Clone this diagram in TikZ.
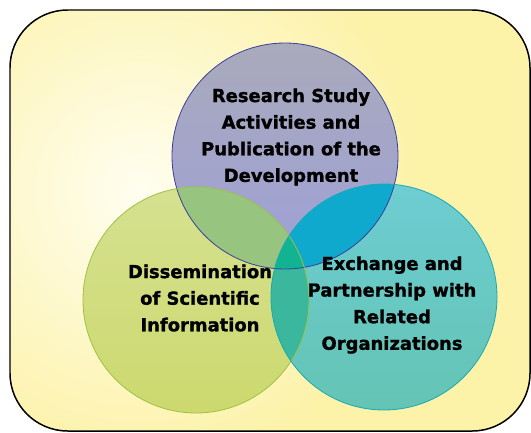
\documentclass[tikz,border=0pt]{standalone}
\usepackage{fontspec}
\setmainfont{DejaVu Sans}[BoldFeatures={FakeBold=1.2}]

\definecolor{bgout}{HTML}{FCF2A8}
\definecolor{bgin}{HTML}{FFFEF0}
\definecolor{topA}{HTML}{A9AABB}
\definecolor{topB}{HTML}{9EA0D8}
\definecolor{topline}{HTML}{3B3F9B}
\definecolor{leftA}{HTML}{D6E190}
\definecolor{leftB}{HTML}{CCD96E}
\definecolor{leftline}{HTML}{9DC146}
\definecolor{rightA}{HTML}{6DCDD2}
\definecolor{rightB}{HTML}{64C4B4}
\definecolor{rightline}{HTML}{19A9B4}
\definecolor{mixTL}{HTML}{97C47F}
\definecolor{mixTR}{HTML}{0EA9CC}
\definecolor{mixLR}{HTML}{3AB79D}
\definecolor{mixTLR}{HTML}{12B393}

\begin{document}
\begin{tikzpicture}[x=1bp, y=1bp, line cap=round, line join=round,
  venntext/.style={align=center, inner sep=0pt, text=black,
    font=\bfseries\fontsize{18}{26.7}\selectfont}]

\useasboundingbox (0,0) rectangle (531,432);

% Define circle centres
\coordinate (T) at (285,276);
\coordinate (L) at (196,132);
\coordinate (R) at (384,135);
\def\rad{113}

% Background panel with a soft glow on the left
\fill[bgout, rounded corners=58] (10,1) rectangle (530,422);
\begin{scope}
  \clip[rounded corners=58] (10,1) rectangle (530,422);
  \shade[inner color=bgin, outer color=bgout] (140,242) circle (280);
\end{scope}
\draw[line width=1.5, rounded corners=58] (10,1) rectangle (530,422);

% The three circles
\shade[top color=topA, bottom color=topB] (T) circle (\rad);
\shade[top color=leftA, bottom color=leftB] (L) circle (\rad);
\shade[top color=rightA, bottom color=rightB] (R) circle (\rad);

% Overlap regions
\begin{scope}
  \clip (T) circle (\rad);
  \fill[mixTL] (L) circle (\rad);
  \fill[mixTR] (R) circle (\rad);
\end{scope}
\begin{scope}
  \clip (L) circle (\rad);
  \fill[mixLR] (R) circle (\rad);
  \clip (R) circle (\rad);
  \fill[mixTLR] (T) circle (\rad);
\end{scope}

% Outlines
\draw[topline, line width=0.8] (T) circle (\rad);
\draw[leftline, line width=0.8] (L) circle (\rad);
\draw[rightline, line width=0.8] (R) circle (\rad);

% Labels
\node[venntext] (research) at (291,295) {Research Study\\Activities and\\Publication of the\\Development};
\node[venntext] (dissem) at (200,134) {Dissemination\\of Scientific\\Information};
\node[venntext] (exchange) at (392,127) {Exchange and\\Partnership with\\Related\\Organizations};

\end{tikzpicture}
\end{document}
